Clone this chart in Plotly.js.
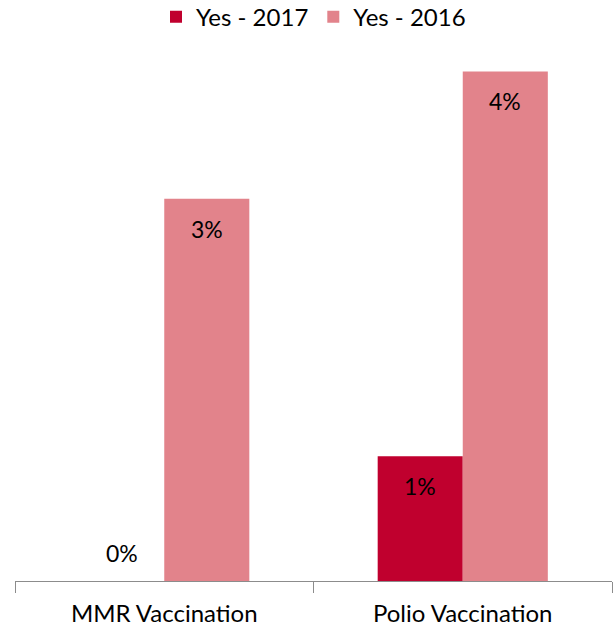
<!DOCTYPE html>
<html><head><meta charset="utf-8">
<script src="https://cdn.plot.ly/plotly-3.0.1.min.js"></script>
<style>html,body{margin:0;padding:0;background:#fff;}#chart{width:613px;height:632px;}</style>
</head><body><div id="chart"></div>
<script>
const categories = ['MMR Vaccination', 'Polio Vaccination'];
const yes2017 = [0, 0.98];
const yes2016 = [3.0, 4.0];
const seriesNames = ['Yes - 2017', 'Yes - 2016'];
const colors = ['#C0002E', '#E2838B'];
const FONT = 'Lato, "Open Sans", sans-serif';

const series = [yes2017, yes2016];
const traces = series.map((vals, i) => ({
  type: 'bar', x: categories, y: vals, name: seriesNames[i],
  marker: {color: colors[i]}, hoverinfo: 'none'
}));

const annotations = [];
series.forEach((vals, i) => {
  vals.forEach((v, j) => {
    const zero = v < 0.2;
    annotations.push({
      x: j, y: v, xref: 'x', yref: 'y', showarrow: false,
      text: Math.round(v) + '%',
      xshift: (i === 0 ? -42.5 : 42.5),
      yanchor: zero ? 'bottom' : 'top',
      yshift: zero ? 12 : -14,
      font: {family: FONT, size: 23, color: '#000'}
    });
  });
});

const layout = {
  width: 613, height: 632,
  margin: {l: 15, r: 1, t: 46, b: 51, autoexpand: false},
  paper_bgcolor: '#fff', plot_bgcolor: '#fff',
  barmode: 'group', bargap: 0.43, bargroupgap: 0,
  font: {family: FONT, size: 24, color: '#000'},
  showlegend: true,
  legend: {orientation: 'h', x: 0.5, xanchor: 'center', y: 1.054, yref: 'paper', yanchor: 'middle',
           font: {family: FONT, size: 24, color: '#000'}, itemwidth: 30, traceorder: 'normal'},
  xaxis: {showline: true, linecolor: '#8c8c8c', linewidth: 1, ticks: 'outside', tickson: 'boundaries',
          ticklen: 11, tickcolor: '#8c8c8c', tickfont: {family: FONT, size: 24, color: '#000'},
          ticklabelstandoff: 11,
          showgrid: false, fixedrange: true},
  yaxis: {range: [0, 4.2], visible: false, showgrid: false, zeroline: false, fixedrange: true},
  annotations: annotations
};
Plotly.newPlot('chart', traces, layout, {displayModeBar: false, staticPlot: true});
</script></body></html>
